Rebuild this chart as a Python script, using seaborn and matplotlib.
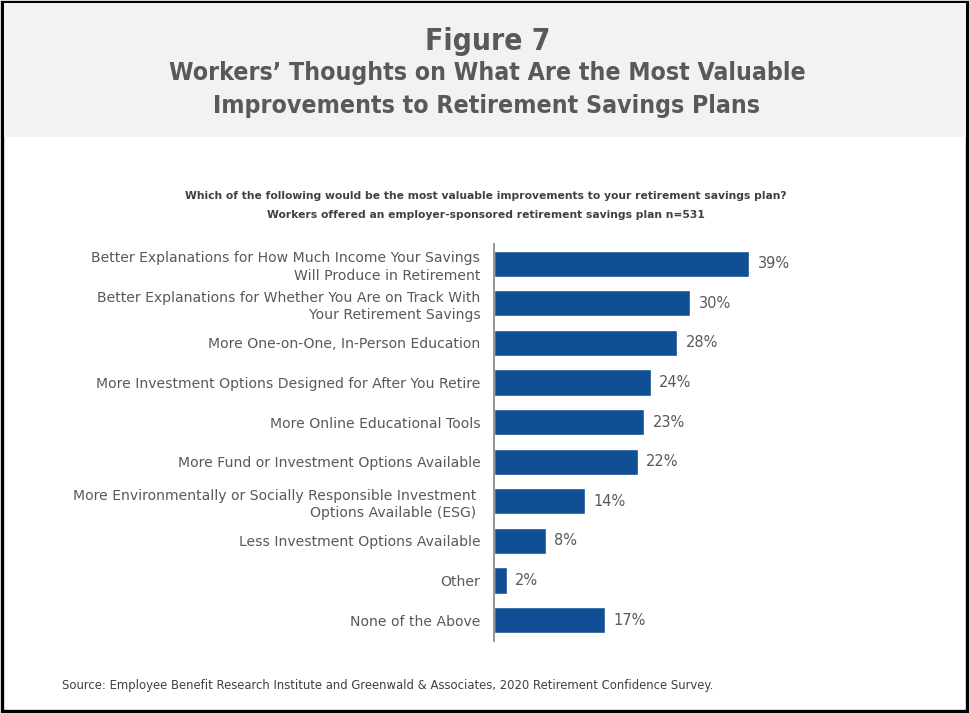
import matplotlib
matplotlib.use("Agg")
import matplotlib.pyplot as plt
from matplotlib.patches import Rectangle
import seaborn as sns
import pandas as pd

categories = [
    "Better Explanations for How Much Income Your Savings\nWill Produce in Retirement",
    "Better Explanations for Whether You Are on Track With\nYour Retirement Savings",
    "More One-on-One, In-Person Education",
    "More Investment Options Designed for After You Retire",
    "More Online Educational Tools",
    "More Fund or Investment Options Available",
    "More Environmentally or Socially Responsible Investment \nOptions Available (ESG) ",
    "Less Investment Options Available",
    "Other",
    "None of the Above",
]
values = [39, 30, 28, 24, 23, 22, 14, 8, 2, 17]

title_main = "Figure 7"
title_sub = "Workers\u2019 Thoughts on What Are the Most Valuable\nImprovements to Retirement Savings Plans"
question = ("Which of the following would be the most valuable improvements to your retirement savings plan?\n"
            "Workers offered an employer-sponsored retirement savings plan n=531")
source = ("Source: Employee Benefit Research Institute and Greenwald & Associates, "
          "2020 Retirement Confidence Survey.")

df = pd.DataFrame({"category": categories, "value": values})

sns.set_theme(style="white")
plt.rcParams["font.family"] = ["DejaVu Sans"]

W, H = 969, 714
fig = plt.figure(figsize=(W / 100, H / 100), dpi=100)
fig.patch.set_facecolor("white")

# border and header band
fig.patches.append(Rectangle((2 / W, 1 - 711 / H), 965 / W, 709 / H, transform=fig.transFigure,
                             facecolor="none", edgecolor="black", linewidth=2.4, zorder=0))
fig.patches.append(Rectangle((3.5 / W, 1 - 137 / H), 962 / W, 134 / H, transform=fig.transFigure,
                             facecolor="#f2f2f2", edgecolor="none", zorder=0))

gray = "#595959"
fig.text(488 / W, 1 - 41 / H, title_main, ha="center", va="center", fontsize=21.5,
         fontweight="bold", color=gray, fontstretch="condensed")
fig.text(487 / W, 1 - 89.5 / H, title_sub, ha="center", va="center", fontsize=17.8,
         fontweight="bold", color=gray, fontstretch="condensed", linespacing=1.45)
fig.text(486 / W, 1 - 205.5 / H, question, ha="center", va="center", fontsize=7.75,
         fontweight="bold", color="#404040", linespacing=2.05)
fig.text(62 / W, 1 - 685 / H, source, ha="left", va="center", fontsize=8.4, color="#404040")

ax_left = 493.5 / W
ax_bottom = 1 - 641 / H
ax_top = 1 - 244 / H
px_per_unit = 6.56
xmax = 45
ax = fig.add_axes([ax_left, ax_bottom, xmax * px_per_unit / W, ax_top - ax_bottom])
ax.set_facecolor("none")

sns.barplot(data=df, y="category", x="value", orient="h", color="#114f95",
            saturation=1, width=0.66, ax=ax)
ax.set_xlim(0, xmax)
ax.set_ylim(9.53, -0.5)
ax.set_xlabel("")
ax.set_ylabel("")
ax.set_xticks([])
for c in ax.containers:
    ax.bar_label(c, labels=[f"{v}%" for v in values], padding=6, fontsize=10.5, color=gray)

ax.tick_params(axis="y", length=0, pad=9.5, labelsize=10.1, labelcolor=gray)
for lbl in ax.get_yticklabels():
    lbl.set_linespacing(1.32)
for s in ["top", "right", "bottom"]:
    ax.spines[s].set_visible(False)
ax.spines["left"].set_color("#8c8c8c")
ax.spines["left"].set_linewidth(1.3)

fig.savefig("out.png", dpi=100)
